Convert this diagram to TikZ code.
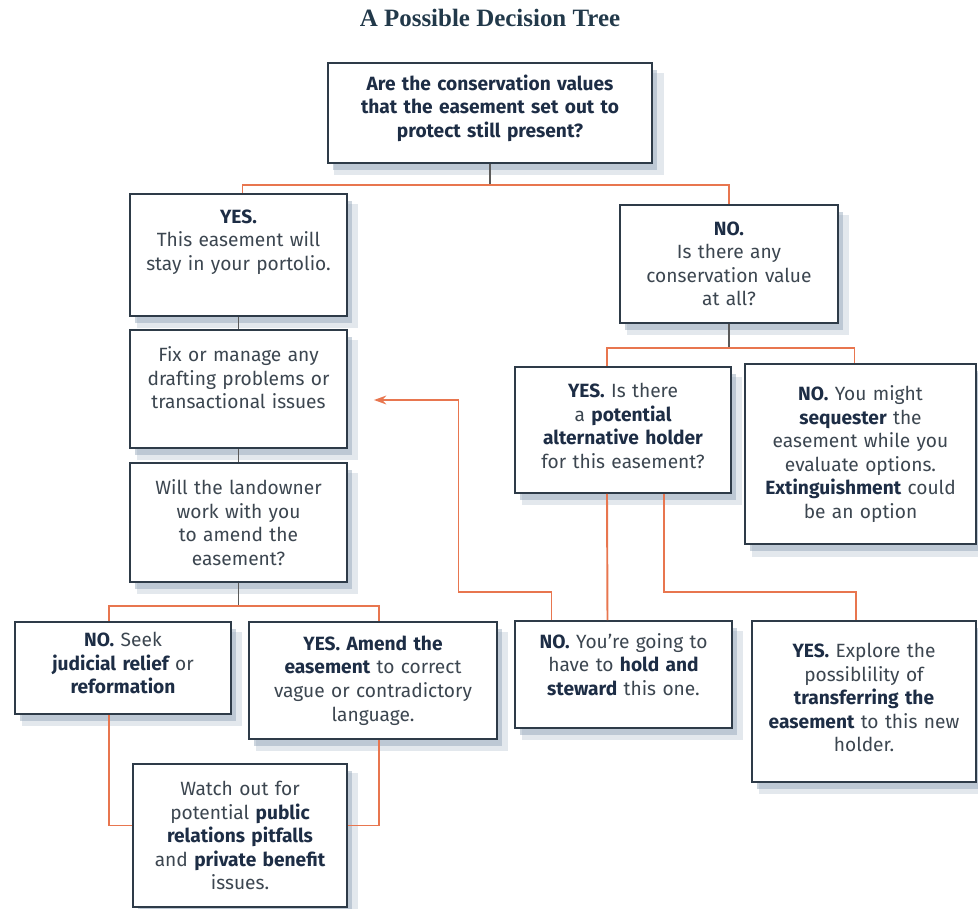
\documentclass[tikz,border=0pt]{standalone}
\usepackage{xcolor}
\usepackage{fontspec}
\setmainfont{Fira Sans}
\newfontfamily\titlefont{Liberation Serif}
\usetikzlibrary{arrows.meta,calc,shadows}

\definecolor{boxline}{HTML}{2E3B48}
\definecolor{linkorange}{HTML}{E8764F}
\definecolor{linkgrey}{HTML}{5A5A5A}
\definecolor{bodytext}{HTML}{3C4650}
\definecolor{boldtext}{HTML}{1D2D45}
\definecolor{boxshadow}{HTML}{8FA2B6}
\definecolor{titleblue}{HTML}{22394A}

\newcommand{\kw}[1]{\textbf{\color{boldtext}#1}}

\tikzset{
  decision/.style={draw=boxline, line width=1.1pt, fill=white, align=center,
    inner sep=0pt, text=bodytext, font=\fontsize{10.9}{13.4}\selectfont,
    drop shadow={shadow xshift=5pt, shadow yshift=-6pt, shadow scale=1.02, fill=boxshadow, opacity=0.25},
    drop shadow={shadow xshift=3pt, shadow yshift=-4pt, fill=boxshadow, opacity=0.45}},
  lift/.style={execute at end node={\par\kern#1}},
  yesno/.style={line width=1.1pt, draw=linkorange},
  stem/.style={line width=1.1pt, draw=linkgrey},
  heading/.style={text=titleblue, font=\titlefont\bfseries\fontsize{14.2}{16}\selectfont},
}

\begin{document}
\begin{tikzpicture}[x=0.02cm, y=-0.02cm]
            \useasboundingbox (0,0) rectangle (978,909);

            \node[heading] (title) at (490,18) {A Possible Decision Tree};

            % first question
            \node[decision, text width=6.48cm, minimum height=2cm, lift=5.7pt] (root) at (490,113)
                {\kw{Are the conservation values}\\ \kw{that the easement set out to}\\ \kw{protect still present?}};

            % left branch
            \node[decision, text width=4.34cm, minimum height=2.44cm, lift=14.7pt] (yes1) at (238.5,255)
                {\kw{YES.}\\ This easement will\\ stay in your portolio.};
            \node[decision, text width=4.34cm, minimum height=2.36cm, lift=12.5pt] (fix) at (238.5,389)
                {Fix or manage any\\ drafting problems or\\ transactional issues};
            \node[decision, text width=4.34cm, minimum height=2.38cm] (will) at (238.5,522.5)
                {Will the landowner\\ work with you\\ to amend the\\ easement?};
            \node[decision, text width=4.32cm, minimum height=1.84cm, lift=5.7pt] (noseek) at (123,668)
                {\kw{NO.} Seek\\ \kw{judicial relief} or\\ \kw{reformation}};
            \node[decision, text width=4.96cm, minimum height=2.34cm] (amend) at (373,680.5)
                {\kw{YES. Amend the}\\ \kw{easement} to correct\\ vague or contradictory\\ language.};
            \node[decision, text width=4.28cm, minimum height=2.86cm] (watch) at (240,835.5)
                {Watch out for\\ potential \kw{public}\\ \kw{relations pitfalls}\\ and \kw{private benefit}\\ issues.};

            % right branch
            \node[decision, text width=4.36cm, minimum height=2.36cm] (no1) at (729,264)
                {\kw{NO.}\\ Is there any\\ conservation value\\ at all?};
            \node[decision, text width=4.32cm, minimum height=2.52cm, lift=4.5pt] (potential) at (623,430)
                {\kw{YES.} Is there\\ a \kw{potential}\\ \kw{alternative holder}\\ for this easement?};
            \node[decision, text width=4.62cm, minimum height=3.6cm] (sequester) at (860.5,454)
                {\kw{NO.} You might\\ \kw{sequester} the\\ easement while you\\ evaluate options.\\ \kw{Extinguishment} could\\ be an option};
            \node[decision, text width=4.34cm, minimum height=2.14cm, lift=11.3pt] (hold) at (623.5,674.5)
                {\kw{NO.} You're going to\\ have to \kw{hold and}\\ \kw{steward} this one.};
            \node[decision, text width=4.48cm, minimum height=3.22cm, lift=4.5pt] (explore) at (864,701.5)
                {\kw{YES.} Explore the\\ possiblility of\\ \kw{transferring the}\\ \kw{easement} to this new\\ holder.};

            % links
            \draw[stem] (root.south) -- ++(0,21) coordinate (top split);
            \draw[yesno] ($(yes1.north)+(4,0)$) |- (top split) -| (no1.north);
            \draw[stem] (yes1) -- (fix);
            \draw[stem] (fix) -- (will);
            \draw[stem] (will.south) -- ++(0,23) coordinate (left split);
            \draw[yesno] ($(noseek.north)+(-14,0)$) |- (left split) -| ($(amend.north)+(6,0)$);
            \draw[yesno] ($(noseek.south)+(-14,0)$) |- ($(watch.west)+(0,-10)$);
            \draw[yesno] ($(amend.south)+(6,0)$) |- ($(watch.east)+(0,-10)$);
            \draw[stem] (no1.south) -- ++(0,24) coordinate (right split);
            \draw[yesno] ($(potential.north)+(-16,0)$) |- (right split) -| ($(sequester.north)+(-6,0)$);
            \draw[yesno] ($(potential.south)+(-16,0)$) -- ($(hold.north)+(-16,0)$);
            \draw[yesno] ($(potential.south)+(41,0)$) |- ($(explore.north)+(-8,-28)$) -- ($(explore.north)+(-8,0)$);
            \draw[yesno, -{Stealth[length=7pt, width=5pt]}] ($(hold.north)+(-72,0)$) -- ++(0,-28) -- ++(-93,0)
                |- ($(fix.east)+(26,11)$); % back to fixing
        \end{tikzpicture}
\end{document}
